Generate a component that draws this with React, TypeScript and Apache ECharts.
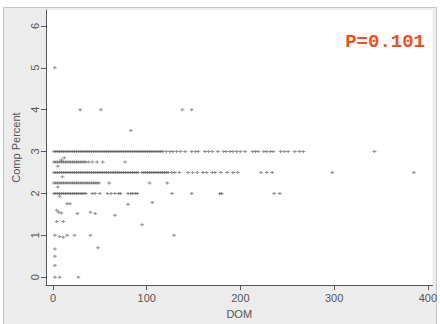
import React, { useEffect, useRef } from "react";
import * as echarts from "echarts";

// Comp Percent rows (y value) and DOM values (x)
const row300: number[] = [
  1, 3, 5, 7, 9, 11, 13, 15, 17, 19, 21, 23, 25, 27, 29, 31, 33, 35, 37, 39, 41, 43, 45, 47, 49, 51, 53, 55, 57, 59,
  61, 63, 65, 67, 69, 71, 73, 75, 77, 79, 81, 83, 85, 87, 89, 91, 93, 95, 97, 99, 101, 103, 105, 107, 109, 111, 113,
  115, 117, 121, 125, 128, 132, 136, 141, 148, 152, 155, 162, 166, 170, 176, 182, 185, 189, 192, 196, 200, 205, 213,
  216, 219, 225, 228, 232, 235, 243, 247, 251, 258, 263, 267, 343,
];
const row275: number[] = [1, 3, 5, 7, 9, 11, 13, 15, 17, 19, 21, 23, 25, 27, 29, 31, 33, 35, 38, 42, 47, 53, 77];
const row250: number[] = [
  1, 3, 5, 7, 9, 11, 13, 15, 17, 19, 21, 23, 25, 27, 29, 31, 33, 35, 37, 39, 41, 43, 45, 47, 49, 51, 53, 55, 57, 59,
  61, 63, 65, 67, 69, 71, 73, 75, 77, 79, 81, 83, 85, 87, 89, 91, 95, 97, 99, 101, 103, 105, 107, 109, 111, 113, 115,
  117, 119, 121, 123, 127, 130, 135, 144, 149, 154, 160, 164, 170, 173, 179, 186, 192, 197, 222, 228, 234, 298, 385,
];
const row225: number[] = [
  1, 3, 5, 7, 9, 11, 13, 15, 17, 19, 21, 23, 25, 27, 29, 31, 33, 35, 37, 39, 41, 43, 45, 47, 49, 60, 103, 122,
];
const row200: number[] = [
  1, 3, 5, 7, 9, 11, 13, 15, 17, 19, 21, 23, 25, 27, 29, 31, 33, 35, 42, 45, 50, 58, 62, 66, 70, 72, 80, 83, 85, 88,
  90, 127, 148, 178, 180, 236, 242,
];
// scattered points: DOM, Comp Percent
const scatterDom: number[] = [
  2, 29, 51, 138, 148, 83, 7, 12, 9, 15, 18, 80, 106, 4, 6, 9, 26, 40, 45, 66, 4, 11, 95, 2, 7, 11, 15, 23, 40, 129,
  48, 2, 2, 2, 2, 7, 27, 5, 10, 5,
];
const scatterPct: number[] = [
  5, 4, 4, 4, 4, 3.5, 1.93, 2.85, 2.8, 1.75, 1.75, 1.74, 1.78, 1.6, 1.55, 1.53, 1.52, 1.55, 1.52, 1.48, 1.33, 1.33,
  1.25, 1, 0.97, 0.95, 1, 1, 1, 1, 0.7, 0.67, 0.5, 0.28, 0, 0, 0, 2.65, 2.4, 2.15,
];
const xTicks: number[] = [0, 100, 200, 300, 400];
const yTicks: number[] = [0, 1, 2, 3, 4, 5, 6];
const pText = "P=0.101";

const plus = "path://M1,0H2V1H3V2H2V3H1V2H0V1H1Z";

export default function App() {
  const ref = useRef<HTMLDivElement>(null);
  useEffect(() => {
    if (!ref.current) return;
    const chart = echarts.init(ref.current, undefined, { renderer: "svg" });
    const rows: [number, number[]][] = [
      [3, row300],
      [2.75, row275],
      [2.5, row250],
      [2.25, row225],
      [2, row200],
    ];
    const data: number[][] = [];
    rows.forEach(([y, xs]) => xs.forEach((x) => data.push([x, y])));
    scatterDom.forEach((x, i) => data.push([x, scatterPct[i]]));
    const font = "Liberation Sans, Arial, sans-serif";
    chart.setOption({
      animation: false,
      backgroundColor: "#ffffff",
      graphic: [
        {
          type: "rect",
          z: -10,
          silent: true,
          shape: { x: 3.5, y: 7.5, width: 433, height: 330 },
          style: { fill: "#ececec", stroke: "#c4c4c4", lineWidth: 1 },
        },
        {
          type: "text",
          right: 15,
          top: 32,
          z: 10,
          style: {
            text: pText,
            fill: "#e8521f",
            font: "bold 19px 'Liberation Mono', 'Courier New', monospace",
          },
        },
      ],
      grid: {
        left: 46,
        top: 10,
        right: 7,
        bottom: 37,
        show: true,
        backgroundColor: "#ffffff",
        borderWidth: 0,
      },
      xAxis: {
        type: "value",
        min: -7.5,
        max: 405,
        name: "DOM",
        nameLocation: "middle",
        nameGap: 18,
        nameTextStyle: { color: "#555", fontSize: 11, fontFamily: font },
        axisLine: { show: true, onZero: false, lineStyle: { color: "#555", width: 1 } },
        axisTick: { show: true, length: 5, customValues: xTicks, lineStyle: { color: "#555" } },
        axisLabel: { customValues: xTicks, color: "#555", fontSize: 11, fontFamily: font, margin: 7 },
        splitLine: { show: false },
      },
      yAxis: {
        type: "value",
        min: -0.19,
        max: 6.38,
        name: "Comp Percent",
        nameLocation: "middle",
        nameGap: 18,
        nameRotate: 90,
        nameTextStyle: { color: "#555", fontSize: 11, fontFamily: font },
        axisLine: { show: true, onZero: false, lineStyle: { color: "#555", width: 1 } },
        axisTick: { show: true, length: 5, customValues: yTicks, lineStyle: { color: "#555" } },
        axisLabel: {
          customValues: yTicks,
          rotate: 90,
          color: "#555",
          fontSize: 11,
          fontFamily: font,
          margin: 6,
        },
        splitLine: { show: false },
      },
      series: [
        {
          type: "scatter",
          symbol: plus,
          symbolSize: [4, 3],
          itemStyle: { color: "#333333", opacity: 0.5 },
          data,
        },
      ],
    });
    return () => chart.dispose();
  }, []);
  return (
    <div
      ref={ref}
      style={{ position: "fixed", left: 0, top: 0, width: 440, height: 324 }}
    />
  );
}
